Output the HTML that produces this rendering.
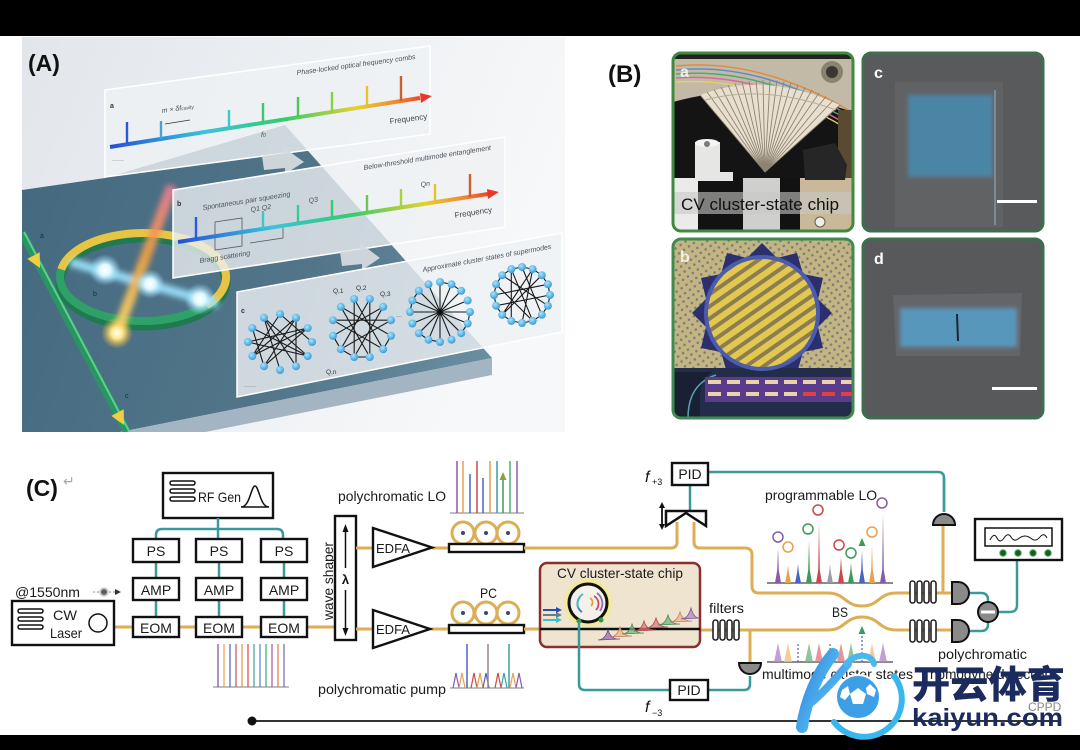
<!DOCTYPE html>
<html><head><meta charset="utf-8"><title>CV cluster-state chip figure</title>
<style>
html,body{margin:0;padding:0;background:#000;width:1080px;height:750px;overflow:hidden}
svg{display:block}
text{font-family:"Liberation Sans","Noto Sans CJK SC",sans-serif}
.bx{fill:#fff;stroke:#111;stroke-width:2.4}
.lb{font-size:14px;fill:#1a1a1a}
.tl{fill:none;stroke:#3a9a9a;stroke-width:2.5}
.fb{fill:none;stroke:#dcae55;stroke-width:3}
.ed{fill:none;stroke:#1a1a1a;stroke-width:1.1}
.nd{fill:url(#nodeG)}
.ct{font-size:7px;fill:#4a4f55;font-style:italic}
</style></head><body>
<svg xmlns="http://www.w3.org/2000/svg" width="1080" height="750" viewBox="0 0 1080 750">
<defs>
<linearGradient id="bgA" x1="0" y1="0" x2="1" y2="0.3">
<stop offset="0" stop-color="#e2e6eb"/><stop offset="0.55" stop-color="#edf0f3"/><stop offset="1" stop-color="#f7f8f9"/>
</linearGradient>
<linearGradient id="slabG" x1="22" y1="190" x2="492" y2="360" gradientUnits="userSpaceOnUse">
<stop offset="0" stop-color="#456a80"/><stop offset="0.6" stop-color="#527589"/><stop offset="1" stop-color="#6b8fa2"/>
</linearGradient>
<linearGradient id="cgA" x1="110" y1="147" x2="427" y2="97" gradientUnits="userSpaceOnUse">
<stop offset="0" stop-color="#2550d8"/><stop offset="0.3" stop-color="#38c4dc"/><stop offset="0.55" stop-color="#34cc6c"/><stop offset="0.78" stop-color="#e6d030"/><stop offset="0.9" stop-color="#f08a30"/><stop offset="1" stop-color="#e8382a"/>
</linearGradient>
<linearGradient id="cgB" x1="178" y1="242" x2="495" y2="193" gradientUnits="userSpaceOnUse">
<stop offset="0" stop-color="#2550d8"/><stop offset="0.3" stop-color="#38c4dc"/><stop offset="0.55" stop-color="#34cc6c"/><stop offset="0.78" stop-color="#e6d030"/><stop offset="0.9" stop-color="#f08a30"/><stop offset="1" stop-color="#e8382a"/>
</linearGradient>
<linearGradient id="beamO" x1="172" y1="186" x2="116" y2="336" gradientUnits="userSpaceOnUse">
<stop offset="0" stop-color="#f07a9a"/><stop offset="0.45" stop-color="#f4a040"/><stop offset="1" stop-color="#ffe070"/>
</linearGradient>
<linearGradient id="logoG" x1="0" y1="0" x2="1" y2="1">
<stop offset="0" stop-color="#2f7fe0"/><stop offset="1" stop-color="#62d2f6"/>
</linearGradient>
<radialGradient id="gw"><stop offset="0" stop-color="#ffffff"/><stop offset="0.35" stop-color="#dff8ff"/><stop offset="1" stop-color="#7fd8ff" stop-opacity="0"/></radialGradient>
<radialGradient id="gy"><stop offset="0" stop-color="#ffffff"/><stop offset="0.35" stop-color="#ffe88a"/><stop offset="1" stop-color="#ffb030" stop-opacity="0"/></radialGradient>
<radialGradient id="nodeG" cx="0.4" cy="0.35" r="0.7"><stop offset="0" stop-color="#a8e4fb"/><stop offset="1" stop-color="#2f95d6"/></radialGradient>
<radialGradient id="ringGlow"><stop offset="0.6" stop-color="#f6f04a"/><stop offset="1" stop-color="#f6f04a" stop-opacity="0"/></radialGradient>
<filter id="b1" filterUnits="userSpaceOnUse" x="0" y="0" width="1080" height="750"><feGaussianBlur stdDeviation="1"/></filter>
<filter id="b2" filterUnits="userSpaceOnUse" x="0" y="0" width="1080" height="750"><feGaussianBlur stdDeviation="2"/></filter>
<filter id="b3" filterUnits="userSpaceOnUse" x="0" y="0" width="1080" height="750"><feGaussianBlur stdDeviation="3"/></filter>
<clipPath id="cpA"><rect x="22" y="37" width="543" height="395"/></clipPath>
<clipPath id="cpa"><rect x="673" y="53" width="180" height="178" rx="8"/></clipPath>
<clipPath id="cpb"><rect x="673" y="239" width="180" height="179" rx="8"/></clipPath>
<pattern id="dots" width="6" height="6" patternUnits="userSpaceOnUse" patternTransform="rotate(-35)">
<rect width="6" height="6" fill="#c3b583"/><circle cx="3" cy="3" r="1.3" fill="#7d7b76"/></pattern>
<pattern id="stripe" width="10" height="10" patternUnits="userSpaceOnUse" patternTransform="rotate(-35)">
<rect width="10" height="6" fill="#e2c84e"/><rect y="6" width="10" height="4" fill="#8c7c52"/></pattern>
</defs>

<!-- frame -->
<rect width="1080" height="750" fill="#000"/>
<rect x="0" y="36" width="1080" height="699" fill="#fff"/>

<!-- ================= PANEL A ================= -->
<g clip-path="url(#cpA)">
<rect x="22" y="37" width="543" height="395" fill="url(#bgA)"/>
<polygon points="22,190 105,178 285,125 492,358 120,432 22,432" fill="url(#slabG)"/>
<polygon points="492,358 492,375 135,446 120,432" fill="#a3b5c2"/>
<!-- straight waveguide -->
<line x1="22" y1="233" x2="127" y2="432" stroke="#2b9463" stroke-width="8"/>
<line x1="24" y1="232" x2="129" y2="431" stroke="#5ccf8c" stroke-width="2"/>
<polygon points="40,268 39.7,252.3 27.3,258.9" fill="#f0d040"/>
<polygon points="124,425 123.7,409.3 111.3,415.9" fill="#f0d040"/>
<!-- ring -->
<ellipse cx="143" cy="282" rx="83" ry="44" fill="none" stroke="#1f7a50" stroke-width="9"/>
<ellipse cx="143" cy="277" rx="83" ry="44" fill="none" stroke="#2fa067" stroke-width="8"/>
<path d="M61.3,269.4 A83,44 0 1 1 206.6,305.3" fill="none" stroke="#e8c444" stroke-width="8"/>
<!-- beams -->
<g filter="url(#b3)">
<line x1="70" y1="262" x2="218" y2="304" stroke="#9fe6ff" stroke-width="9" opacity="0.9"/>
<line x1="172" y1="186" x2="116" y2="336" stroke="url(#beamO)" stroke-width="11" opacity="0.9"/>
</g>
<circle cx="105" cy="270" r="16" fill="url(#gw)"/>
<circle cx="150" cy="284" r="15" fill="url(#gw)"/>
<circle cx="200" cy="299" r="16" fill="url(#gw)"/>
<circle cx="117" cy="333" r="16" fill="url(#gy)"/>
<text x="40" y="238" font-size="7" fill="#1d2a35">a</text>
<text x="93" y="296" font-size="7" fill="#1d2a35">b</text>
<text x="125" y="398" font-size="7" fill="#1d2a35">c</text>

<!-- card a -->
<polygon points="105,90 430,46 430,134 105,177" fill="#eef1f4" fill-opacity="0.8" stroke="#fff" stroke-width="1.5"/>
<line x1="110" y1="147" x2="420" y2="98" stroke="url(#cgA)" stroke-width="4"/>
<polygon points="420,93 432,96 421,103" fill="#e8382a"/>
<g stroke-width="2.4">
<line x1="127" y1="144" x2="127" y2="122" stroke="#2a5ad8"/>
<line x1="161" y1="139" x2="161" y2="121" stroke="#4aa0d8"/>
<line x1="229" y1="128" x2="229" y2="110" stroke="#3ac8c8"/>
<line x1="263" y1="123" x2="263" y2="103" stroke="#3ac870"/>
<line x1="298" y1="117" x2="298" y2="97" stroke="#4ac850"/>
<line x1="332" y1="112" x2="332" y2="92" stroke="#8ad040"/>
<line x1="367" y1="106" x2="367" y2="86" stroke="#e8c030"/>
<line x1="401" y1="101" x2="401" y2="76" stroke="#c86030"/>
</g>
<text x="110" y="108" font-size="7" font-weight="bold" fill="#333">a</text>
<text class="ct" transform="translate(162,113) rotate(-8)">m × δf<tspan font-size="5">cavity</tspan></text>
<line x1="165" y1="124" x2="190" y2="120" stroke="#333" stroke-width="0.8"/>
<text class="ct" x="261" y="137">f<tspan font-size="5">0</tspan></text>
<text class="ct" transform="translate(297,75) rotate(-7.7)">Phase-locked optical frequency combs</text>
<text transform="translate(390,124) rotate(-7.7)" font-size="8" fill="#444">Frequency</text>
<text x="112" y="162" font-size="6" fill="#555">······</text>
<polygon points="262,156 283,153 283,147 304,162 285,174 285,168 264,170" fill="#d5dade" opacity="0.95"/>

<!-- card b -->
<polygon points="173,190 505,137 505,227 173,278" fill="#eef1f4" fill-opacity="0.78" stroke="#fff" stroke-width="1.5"/>
<path d="M215,222 L242,218 L242,246 L215,250 Z M250,243 L283,238 L283,228" fill="none" stroke="#555" stroke-width="0.8"/>
<line x1="178" y1="242" x2="488" y2="194" stroke="url(#cgB)" stroke-width="4"/>
<polygon points="487,189 499,192 488,199" fill="#e8382a"/>
<g stroke-width="2.4">
<line x1="196" y1="239" x2="196" y2="217" stroke="#2a5ad8"/>
<line x1="263" y1="229" x2="263" y2="211" stroke="#3ac8c8"/>
<line x1="298" y1="223" x2="298" y2="205" stroke="#3ac898"/>
<line x1="332" y1="218" x2="332" y2="200" stroke="#3ac870"/>
<line x1="367" y1="213" x2="367" y2="195" stroke="#6ac850"/>
<line x1="401" y1="207" x2="401" y2="189" stroke="#a8d040"/>
<line x1="435" y1="202" x2="435" y2="184" stroke="#e8c030"/>
<line x1="470" y1="197" x2="470" y2="174" stroke="#c86030"/>
</g>
<text x="177" y="206" font-size="7" font-weight="bold" fill="#333">b</text>
<text class="ct" transform="translate(203,210) rotate(-9)">Spontaneous pair squeezing</text>
<text class="ct" transform="translate(251,212) rotate(-9)" font-size="8">Q1 Q2</text>
<text class="ct" transform="translate(309,203) rotate(-9)" font-size="8">Q3</text>
<text class="ct" transform="translate(421,187) rotate(-9)" font-size="8">Qn</text>
<text class="ct" transform="translate(364,170) rotate(-9)">Below-threshold multimode entanglement</text>
<text transform="translate(455,218) rotate(-9)" font-size="8" fill="#444">Frequency</text>
<text class="ct" transform="translate(200,263) rotate(-9)">Bragg scattering</text>
<polygon points="340,252 360,249 360,243 380,258 362,270 362,264 342,266" fill="#d5dade" opacity="0.95"/>

<!-- card c -->
<polygon points="237,292 562,233 562,332 237,397" fill="#eef1f4" fill-opacity="0.8" stroke="#fff" stroke-width="1.5"/>
<text x="241" y="313" font-size="7" font-weight="bold" fill="#333">c</text>
<text class="ct" transform="translate(423,272) rotate(-10.3)">Approximate cluster states of supermodes</text>
<text x="244" y="388" font-size="6" fill="#555">······</text>
<text x="527" y="322" font-size="6" fill="#555">······</text>
<!-- graph 1 -->
<path class="ed" d="M307.7,356L252.3,328M296,366.2L264,317.8M296,366.2L296,317.8M264,366.2L296,317.8M264,366.2L307.7,328M252.3,356L307.7,328M252.3,356L280,314M248,342L307.7,356M264,317.8L280,370M296,317.8L252.3,356M307.7,328L248,342M264,317.8L307.7,356M252.3,328L264,366.2M280,314L312,342"/>
<g class="nd">
<circle cx="312" cy="342" r="4"/><circle cx="307.7" cy="356" r="4"/><circle cx="296" cy="366.2" r="4"/><circle cx="280" cy="370" r="4"/><circle cx="264" cy="366.2" r="4"/><circle cx="252.3" cy="356" r="4"/><circle cx="248" cy="342" r="4"/><circle cx="252.3" cy="328" r="4"/><circle cx="264" cy="317.8" r="4"/><circle cx="280" cy="314" r="4"/><circle cx="296" cy="317.8" r="4"/><circle cx="307.7" cy="328" r="4"/>
</g>
<!-- graph 2 -->
<path class="ed" d="M391,335.8L340.8,306.8M383.2,349.2L354.2,299M369.8,357L369.8,299M354.2,357L383.2,306.8M340.8,349.2L391,320.2M333,335.8L383.2,306.8M333,320.2L383.2,349.2M340.8,306.8L369.8,357M354.2,299L354.2,357M369.8,299L340.8,349.2M391,320.2L333,320.2M369.8,357L354.2,357L340.8,349.2L333,335.8M391,335.8L383.2,349.2"/>
<g class="nd">
<circle cx="391" cy="335.8" r="4"/><circle cx="383.2" cy="349.2" r="4"/><circle cx="369.8" cy="357" r="4"/><circle cx="354.2" cy="357" r="4"/><circle cx="340.8" cy="349.2" r="4"/><circle cx="333" cy="335.8" r="4"/><circle cx="333" cy="320.2" r="4"/><circle cx="340.8" cy="306.8" r="4"/><circle cx="354.2" cy="299" r="4"/><circle cx="369.8" cy="299" r="4"/><circle cx="383.2" cy="306.8" r="4"/><circle cx="391" cy="320.2" r="4"/>
</g>
<text x="333" y="293" font-size="6.5" fill="#333">Q,1</text>
<text x="356" y="290" font-size="6.5" fill="#333">Q,2</text>
<text x="380" y="296" font-size="6.5" fill="#333">Q,3</text>
<text x="326" y="374" font-size="6.5" fill="#333">Q,n</text>
<text x="396" y="318" font-size="6" fill="#333">···</text>
<!-- graph 3 -->
<path class="ed" d="M440,312L470,312M440,312L467.7,323.5M440,312L461.2,333.2M440,312L451.5,339.7M440,312L440,342M440,312L428.5,339.7M440,312L418.8,333.2M440,312L412.3,323.5M440,312L410,312M440,312L412.3,300.5M440,312L418.8,290.8M440,312L428.5,284.3M440,312L440,282M440,312L451.5,284.3M440,312L461.2,290.8M440,312L467.7,300.5M470,312L467.7,323.5L461.2,333.2M440,342L428.5,339.7L418.8,333.2M410,312L412.3,300.5L418.8,290.8M440,282L451.5,284.3L461.2,290.8"/>
<circle cx="440" cy="312" r="2.5" fill="#111"/>
<g class="nd">
<circle cx="470" cy="312" r="4"/><circle cx="467.7" cy="323.5" r="4"/><circle cx="461.2" cy="333.2" r="4"/><circle cx="451.5" cy="339.7" r="4"/><circle cx="440" cy="342" r="4"/><circle cx="428.5" cy="339.7" r="4"/><circle cx="418.8" cy="333.2" r="4"/><circle cx="412.3" cy="323.5" r="4"/><circle cx="410" cy="312" r="4"/><circle cx="412.3" cy="300.5" r="4"/><circle cx="418.8" cy="290.8" r="4"/><circle cx="428.5" cy="284.3" r="4"/><circle cx="440" cy="282" r="4"/><circle cx="451.5" cy="284.3" r="4"/><circle cx="461.2" cy="290.8" r="4"/><circle cx="467.7" cy="300.5" r="4"/>
</g>
<!-- graph 4 -->
<path class="ed" d="M550,295L547.9,305.7L541.8,314.8L532.7,320.9L522,323L511.3,320.9L502.2,314.8L496.1,305.7L494,295L496.1,284.3L502.2,275.2L511.3,269.1L522,267L532.7,269.1L541.8,275.2L547.9,284.3Z M550,295L496.1,305.7M547.9,305.7L502.2,275.2M541.8,314.8L522,267M532.7,320.9L496.1,284.3M522,323L532.7,269.1M511.3,320.9L511.3,269.1M502.2,314.8L541.8,275.2M494,295L547.9,284.3M511.3,269.1L532.7,320.9M532.7,269.1L502.2,314.8"/>
<g class="nd">
<circle cx="550" cy="295" r="4"/><circle cx="547.9" cy="305.7" r="4"/><circle cx="541.8" cy="314.8" r="4"/><circle cx="532.7" cy="320.9" r="4"/><circle cx="522" cy="323" r="4"/><circle cx="511.3" cy="320.9" r="4"/><circle cx="502.2" cy="314.8" r="4"/><circle cx="496.1" cy="305.7" r="4"/><circle cx="494" cy="295" r="4"/><circle cx="496.1" cy="284.3" r="4"/><circle cx="502.2" cy="275.2" r="4"/><circle cx="511.3" cy="269.1" r="4"/><circle cx="522" cy="267" r="4"/><circle cx="532.7" cy="269.1" r="4"/><circle cx="541.8" cy="275.2" r="4"/><circle cx="547.9" cy="284.3" r="4"/>
</g>
</g>
<text x="28" y="71" font-size="23" font-weight="bold" fill="#111">(A)</text>

<!-- ================= PANEL B ================= -->
<text x="608" y="82" font-size="24" font-weight="bold" fill="#111">(B)</text>

<!-- a: photo -->
<g clip-path="url(#cpa)">
<rect x="673" y="53" width="180" height="178" fill="#141414"/>
<path d="M673,58 H853 V112 Q805,96 765,92 Q715,90 673,102 Z" fill="#c2b9a6"/>
<rect x="673" y="53" width="180" height="6" fill="#222"/>
<g fill="none" stroke-width="1.4">
<path d="M676,66 Q760,58 852,112" stroke="#e08a40"/>
<path d="M676,70 Q760,62 850,116" stroke="#5a8ad0"/>
<path d="M676,74 Q760,67 848,120" stroke="#4aa870"/>
<path d="M676,78 Q760,72 846,124" stroke="#d86a9a"/>
<path d="M676,82 Q760,77 844,127" stroke="#e8d060"/>
</g>
<circle cx="832" cy="72" r="11" fill="#8a8270"/><circle cx="832" cy="72" r="6" fill="#3a3530"/>
<rect x="838" y="110" width="15" height="70" fill="#5a4a32"/>
<path d="M765,172 L700,95 Q765,70 840,105 Z" fill="#e8dfcf"/>
<g stroke="#8c8372" stroke-width="0.9">
<line x1="765" y1="172" x2="700" y2="95"/><line x1="765" y1="172" x2="707" y2="92"/><line x1="765" y1="172" x2="714" y2="89.5"/><line x1="765" y1="172" x2="721" y2="87"/><line x1="765" y1="172" x2="728" y2="85"/><line x1="765" y1="172" x2="735" y2="83.5"/><line x1="765" y1="172" x2="742" y2="82"/><line x1="765" y1="172" x2="749" y2="81"/><line x1="765" y1="172" x2="756" y2="80.3"/><line x1="765" y1="172" x2="763" y2="80"/><line x1="765" y1="172" x2="770" y2="80"/><line x1="765" y1="172" x2="777" y2="80.5"/><line x1="765" y1="172" x2="784" y2="81.5"/><line x1="765" y1="172" x2="791" y2="83"/><line x1="765" y1="172" x2="798" y2="85"/><line x1="765" y1="172" x2="805" y2="87.5"/><line x1="765" y1="172" x2="812" y2="90"/><line x1="765" y1="172" x2="819" y2="93"/><line x1="765" y1="172" x2="826" y2="96.5"/><line x1="765" y1="172" x2="833" y2="100.5"/><line x1="765" y1="172" x2="840" y2="105"/>
</g>
<path d="M705,100 Q765,84 836,110" fill="none" stroke="#b8ad98" stroke-width="1"/>
<rect x="673" y="178" width="180" height="53" fill="#cfcfcd"/>
<rect x="673" y="178" width="25" height="53" fill="#ebebea"/>
<rect x="698" y="178" width="45" height="53" fill="#121212"/>
<rect x="780" y="178" width="20" height="53" fill="#121212"/>
<rect x="800" y="178" width="53" height="53" fill="#c9b99a"/>
<circle cx="820" cy="222" r="5" fill="#eee" stroke="#6a5a40"/>
<path d="M695,142 h25 v30 h13 v9 h-38 z" fill="#e6e6e4"/>
<ellipse cx="707" cy="143" rx="12" ry="4" fill="#f4f4f2"/><circle cx="707" cy="144" r="3" fill="#7a7a78"/>
<path d="M803,150 L835,143 L847,165 L845,180 L805,180 Z" fill="#262626"/>
<rect x="673" y="192" width="180" height="22" fill="#c8c8c6" fill-opacity="0.6"/>
<text x="681" y="210" font-size="17" fill="#111" textLength="158" lengthAdjust="spacingAndGlyphs">CV cluster-state chip</text>
<text x="680" y="77" font-size="16" font-weight="bold" fill="#fff" fill-opacity="0.8">a</text>
</g>
<rect x="673" y="53" width="180" height="178" rx="8" fill="none" stroke="#3f8a3f" stroke-width="3"/>

<!-- b: micrograph -->
<g clip-path="url(#cpb)">
<rect x="673" y="239" width="180" height="179" fill="url(#dots)"/>
<polygon points="832,313 818,327 823,348 803,352 797,373 777,368 762,383 747,368 727,373 721,352 701,348 706,327 692,313 706,299 701,278 721,274 727,253 747,258 762,243 777,258 797,253 803,274 823,278 818,299" fill="#2b2f6e"/>
<rect x="673" y="368" width="180" height="50" fill="#232c48"/>
<circle cx="762" cy="313" r="55" fill="url(#stripe)"/>
<circle cx="762" cy="313" r="56" fill="none" stroke="#4b5cae" stroke-width="4"/>
<path d="M673,372 H712 Q700,380 700,395 V418 H673 Z" fill="#1a2034"/>
<path d="M688,418 Q688,384 716,375" fill="none" stroke="#5aa0b0" stroke-width="1.5"/>
<rect x="705" y="377" width="148" height="25" fill="#5b3c8c"/>
<g fill="#e8d4a8">
<rect x="708" y="380" width="13" height="4"/><rect x="727" y="380" width="13" height="4"/><rect x="746" y="380" width="13" height="4"/><rect x="765" y="380" width="13" height="4"/><rect x="784" y="380" width="13" height="4"/><rect x="803" y="380" width="13" height="4"/><rect x="822" y="380" width="13" height="4"/><rect x="841" y="380" width="13" height="4"/>
<rect x="708" y="392" width="13" height="4"/><rect x="727" y="392" width="13" height="4"/><rect x="746" y="392" width="13" height="4"/><rect x="765" y="392" width="13" height="4"/><rect x="784" y="392" width="13" height="4"/>
</g>
<g fill="#e04040"><rect x="803" y="392" width="13" height="4"/><rect x="822" y="392" width="13" height="4"/><rect x="841" y="392" width="13" height="4"/></g>
<text x="680" y="262" font-size="16" font-weight="bold" fill="#fff" fill-opacity="0.8">b</text>
</g>
<rect x="673" y="239" width="180" height="179" rx="8" fill="none" stroke="#3f8a4f" stroke-width="3"/>

<!-- c -->
<rect x="863" y="53" width="180" height="178" rx="8" fill="#595a5c" stroke="#3d6e4e" stroke-width="3"/>
<rect x="895" y="82" width="108" height="145" fill="#616264"/>
<rect x="908" y="95" width="85" height="82" fill="#4c85a6" filter="url(#b2)"/>
<line x1="995" y1="90" x2="995" y2="225" stroke="#7d8a95" stroke-width="2"/>
<rect x="997" y="200" width="40" height="3" fill="#fff"/>
<text x="874" y="78" font-size="16" font-weight="bold" fill="#fff">c</text>
<!-- d -->
<rect x="863" y="239" width="180" height="179" rx="8" fill="#58595b" stroke="#3d6e4e" stroke-width="3"/>
<polygon points="893,295 1022,293 1020,356 896,356" fill="#646568"/>
<rect x="900" y="308" width="117" height="39" fill="#5897bc" filter="url(#b2)"/>
<line x1="957" y1="314" x2="958" y2="341" stroke="#1e2430" stroke-width="2"/>
<rect x="992" y="387" width="45" height="3" fill="#fff"/>
<text x="874" y="264" font-size="16" font-weight="bold" fill="#fff">d</text>

<!-- ================= PANEL C ================= -->
<text x="26" y="496" font-size="23" font-weight="bold" fill="#111">(C)</text>
<text x="63" y="486" font-size="14" fill="#aaa">↵</text>

<!-- RF Gen -->
<rect class="bx" x="163" y="473" width="110" height="45"/>
<g fill="none" stroke="#111" stroke-width="1.5">
<rect x="170" y="481" width="25" height="4" rx="2"/><rect x="170" y="489" width="25" height="4" rx="2"/><rect x="170" y="497" width="25" height="4" rx="2"/>
<path d="M241,507 C250,507 251,486 255,486 C259,486 260,507 269,507 M241,507 H269"/>
</g>
<text class="lb" x="198" y="502" textLength="43" lengthAdjust="spacingAndGlyphs">RF Gen</text>

<!-- teal RF bus -->
<path class="tl" d="M218,518 V539 M156,539 V535 Q156,529 162,529 H277 Q283,529 283,535 V539"/>
<path class="tl" d="M156,562 V578 M156,600 V617 M219,562 V578 M219,600 V617 M284,562 V578 M284,600 V617"/>

<!-- fibers left -->
<path class="fb" d="M114,627 H133 M179,627 H196 M242,627 H261 M307,627 H335"/>

<!-- PS / AMP / EOM -->
<rect class="bx" x="133" y="539" width="46" height="23"/><rect class="bx" x="196" y="539" width="46" height="23"/><rect class="bx" x="261" y="539" width="46" height="23"/>
<rect class="bx" x="133" y="578" width="46" height="22"/><rect class="bx" x="196" y="578" width="46" height="22"/><rect class="bx" x="261" y="578" width="46" height="22"/>
<rect class="bx" x="133" y="617" width="46" height="20"/><rect class="bx" x="196" y="617" width="46" height="20"/><rect class="bx" x="261" y="617" width="46" height="20"/>
<g class="lb" text-anchor="middle">
<text x="156" y="556">PS</text><text x="219" y="556">PS</text><text x="284" y="556">PS</text>
<text x="156" y="595">AMP</text><text x="219" y="595">AMP</text><text x="284" y="595">AMP</text>
<text x="156" y="633">EOM</text><text x="219" y="633">EOM</text><text x="284" y="633">EOM</text>
</g>

<!-- CW laser -->
<rect class="bx" x="12" y="601" width="102" height="44"/>
<g fill="none" stroke="#111" stroke-width="1.5">
<rect x="18" y="609" width="25" height="4" rx="2"/><rect x="18" y="617" width="25" height="4" rx="2"/><rect x="18" y="625" width="25" height="4" rx="2"/>
<circle cx="98" cy="623" r="9"/>
</g>
<text class="lb" x="53" y="620" textLength="24" lengthAdjust="spacingAndGlyphs">CW</text>
<text class="lb" x="50" y="638" textLength="32" lengthAdjust="spacingAndGlyphs">Laser</text>
<text class="lb" x="15" y="597" textLength="65" lengthAdjust="spacingAndGlyphs">@1550nm</text>
<line x1="93" y1="592" x2="116" y2="592" stroke="#888" stroke-width="1" stroke-dasharray="2,2"/>
<circle cx="104" cy="592" r="3.5" fill="#555" filter="url(#b1)"/>
<polygon points="115,589 121,592 115,595" fill="#333"/>

<!-- EOM comb -->
<line x1="213" y1="687" x2="289" y2="687" stroke="#999" stroke-width="1.2"/>
<g stroke-width="1.2">
<path d="M218,644V687" stroke="#7a4a9a"/><path d="M224,644V687" stroke="#e8a050"/><path d="M230,644V687" stroke="#4a60c0"/><path d="M236,644V687" stroke="#c85050"/><path d="M242,644V687" stroke="#e89040"/><path d="M248,644V687" stroke="#d04a4a"/><path d="M254,644V687" stroke="#40a0a0"/><path d="M260,644V687" stroke="#5080d0"/><path d="M266,644V687" stroke="#40a870"/><path d="M272,644V687" stroke="#9a5aa8"/><path d="M278,644V687" stroke="#e07a50"/><path d="M284,644V687" stroke="#6a6ab0"/>
</g>

<!-- wave shaper -->
<rect class="bx" x="335" y="516" width="21" height="124"/>
<path d="M345.5,530 V568 M345.5,590 V630" stroke="#111" stroke-width="1.5"/>
<polygon points="342.5,532 345.5,524 348.5,532" fill="#111"/><polygon points="342.5,628 345.5,636 348.5,628" fill="#111"/>
<text x="345.5" y="584" font-size="13" font-weight="bold" text-anchor="middle" fill="#111">λ</text>
<text class="lb" transform="translate(333,620) rotate(-90)" textLength="78" lengthAdjust="spacingAndGlyphs">wave shaper</text>

<!-- EDFAs -->
<path class="fb" d="M356,548 H373 M356,629 H373 M432,548 H449 M430,629 H449"/>
<polygon class="bx" points="373,528 432,547.5 373,567"/>
<polygon class="bx" points="373,610 430,629 373,648"/>
<text x="376" y="553" font-size="13" fill="#1a1a1a" textLength="34" lengthAdjust="spacingAndGlyphs">EDFA</text>
<text x="376" y="634" font-size="13" fill="#1a1a1a" textLength="34" lengthAdjust="spacingAndGlyphs">EDFA</text>

<!-- PCs -->
<g fill="none" stroke="#dcae55" stroke-width="3">
<circle cx="463" cy="533" r="11"/><circle cx="486" cy="533" r="11"/><circle cx="508" cy="533" r="11"/>
<circle cx="463" cy="613" r="11"/><circle cx="486" cy="613" r="11"/><circle cx="508" cy="613" r="11"/>
</g>
<g fill="#3a4a6a"><circle cx="463" cy="533" r="2"/><circle cx="486" cy="533" r="2"/><circle cx="508" cy="533" r="2"/><circle cx="463" cy="613" r="2"/><circle cx="486" cy="613" r="2"/><circle cx="508" cy="613" r="2"/></g>
<rect class="bx" x="449" y="544" width="75" height="8"/>
<rect class="bx" x="449" y="625" width="75" height="8"/>
<text class="lb" x="480" y="598" textLength="17" lengthAdjust="spacingAndGlyphs">PC</text>
<text class="lb" x="338" y="501" textLength="108" lengthAdjust="spacingAndGlyphs">polychromatic LO</text>
<text class="lb" x="318" y="694" textLength="128" lengthAdjust="spacingAndGlyphs">polychromatic pump</text>

<!-- LO comb -->
<line x1="450" y1="513" x2="524" y2="513" stroke="#999" stroke-width="1.2"/>
<g stroke-width="1.5">
<path d="M457,461V513" stroke="#8a5aa8"/><path d="M463,461V513" stroke="#e8a050"/><path d="M470,474V513" stroke="#4a62c4"/><path d="M477,461V513" stroke="#c84a4a"/><path d="M483,478V513" stroke="#4a62c4"/><path d="M490,461V513" stroke="#e89a40"/><path d="M497,461V513" stroke="#3aa0a0"/><path d="M503,478V513" stroke="#3a9a5a"/><path d="M510,461V513" stroke="#4ab070"/><path d="M517,461V513" stroke="#9a5aa8"/>
</g>
<polygon points="499.5,480 503,472 506.5,480" fill="#8aa040"/>
<!-- pump comb -->
<line x1="450" y1="688" x2="524" y2="688" stroke="#999" stroke-width="1.2"/>
<g fill="none" stroke-width="1.2">
<path d="M453,688L456,673L459,688" stroke="#8a5aa8"/><path d="M459,688L462,673L465,688" stroke="#e8a050"/><path d="M471,688L474,673L477,688" stroke="#c84a4a"/><path d="M477,688L480,673L483,688" stroke="#e89a40"/><path d="M483,688L486,673L489,688" stroke="#4a62c4"/><path d="M495,688L498,673L501,688" stroke="#c84a4a"/><path d="M501,688L504,673L507,688" stroke="#3aa0a0"/><path d="M510,688L513,673L516,688" stroke="#e8a050"/><path d="M516,688L519,673L522,688" stroke="#8a5aa8"/>
</g>
<g stroke-width="1.5"><path d="M467,644V688" stroke="#4a62c4"/><path d="M488,644V688" stroke="#9a8090"/><path d="M509,644V688" stroke="#3aa0a0"/></g>

<!-- upper fiber route -->
<path class="fb" d="M524,548 H671 Q677,548 677,542 V522 M694,522 V542 Q694,548 700,548 H745 Q752,548 752,555 V586 Q752,593 759,593 H828 C845,593 845,606 862,606 C879,606 879,593 896,593 H952 M943,593 V525"/>
<!-- lower fiber route -->
<path class="fb" d="M524,629 H540 M700,630 H828 C845,630 845,617 862,617 C879,617 879,630 896,630 H952 M750,630 V663"/>

<!-- PID upper + prism -->
<path class="tl" d="M690,485 V511 M708,472 H938 Q944,472 944,478 V512"/>
<rect class="bx" x="672" y="463" width="36" height="22"/>
<text class="lb" x="690" y="479" text-anchor="middle">PID</text>
<polygon points="666,511 706,511 706,526 686,513 666,526" fill="#fff" stroke="#111" stroke-width="2.5"/>
<path d="M662,506 V526" stroke="#111" stroke-width="1.8"/>
<polygon points="659,508 662,502 665,508" fill="#111"/><polygon points="659,524 662,530 665,524" fill="#111"/>
<text x="645" y="482" font-family="Liberation Serif,serif" font-style="italic" font-size="16" fill="#111">f</text>
<text x="652" y="485" font-size="9" fill="#111">+3</text>

<!-- CV chip -->
<rect x="540" y="563" width="160" height="84" rx="7" fill="#efe4cf" stroke="#8a2e2e" stroke-width="2.5"/>
<text class="lb" x="557" y="578" textLength="126" lengthAdjust="spacingAndGlyphs">CV cluster-state chip</text>
<circle cx="588" cy="603" r="26" fill="url(#ringGlow)"/>
<circle cx="588" cy="603" r="19" fill="#f3f1ea" stroke="#111" stroke-width="3"/>
<g fill="none" stroke-width="1.8">
<path d="M580,597 A10,10 0 0 0 582,612" stroke="#3a7ad0"/>
<path d="M583,594 A12,12 0 0 0 578,608" stroke="#40b8c0"/>
<path d="M594,596 A9,9 0 0 1 596,610" stroke="#c84a6a"/>
<path d="M597,593 A13,13 0 0 1 600,611" stroke="#9a6ab0"/>
<path d="M590,598 A5,5 0 0 1 591,606" stroke="#e89a40"/>
</g>
<line x1="540" y1="629" x2="700" y2="629" stroke="#111" stroke-width="2.5"/>
<circle cx="579" cy="621" r="2.5" fill="#2a9a4a"/><circle cx="601" cy="620" r="2.5" fill="#2a9a4a"/>
<g stroke-width="2"><line x1="543" y1="610" x2="557" y2="610" stroke="#2a4ab8"/><line x1="543" y1="615" x2="557" y2="615" stroke="#6a7a8a"/><line x1="543" y1="620" x2="557" y2="620" stroke="#3ac0c8"/></g>
<polygon points="556,607 562,610 556,613" fill="#2a4ab8"/><polygon points="556,612 562,615 556,618" fill="#6a7a8a"/><polygon points="556,617 562,620 556,623" fill="#3ac0c8"/>
<g fill-opacity="0.75" stroke-width="0.8">
<path d="M598,640 Q605,640 608,630 Q611,640 620,639 Z" fill="#9a6ab8" stroke="#6a4a88"/>
<path d="M610,637 Q617,637 620,627 Q623,637 632,636 Z" fill="#f0b890" stroke="#c08060"/>
<path d="M622,634 Q629,634 632,624 Q635,634 644,633 Z" fill="#70b880" stroke="#4a8a5a"/>
<path d="M634,631 Q641,631 644,621 Q647,631 656,630 Z" fill="#e07a80" stroke="#b04a50"/>
<path d="M646,628 Q653,628 656,618 Q659,628 668,627 Z" fill="#e07a80" stroke="#b04a50"/>
<path d="M658,625 Q665,625 668,615 Q671,625 680,624 Z" fill="#70b880" stroke="#4a8a5a"/>
<path d="M670,622 Q677,622 680,612 Q683,622 692,621 Z" fill="#f0b890" stroke="#c08060"/>
<path d="M681,619 Q688,619 691,608 Q694,619 700,618 Z" fill="#b08ac8" stroke="#7a5a98"/>
</g>
<!-- lower PID -->
<path class="tl" d="M670,690 H585 Q579,690 579,684 V622 M750,676 V684 Q750,690 744,690 H708"/>
<rect class="bx" x="670" y="680" width="38" height="20"/>
<text class="lb" x="689" y="695" text-anchor="middle">PID</text>
<text x="645" y="712" font-family="Liberation Serif,serif" font-style="italic" font-size="16" fill="#111">f</text>
<text x="652" y="716" font-size="9" fill="#111">−3</text>
<path d="M739,663 H761 A11,11 0 0 1 739,663 Z" fill="#8a8a8a" stroke="#111" stroke-width="2"/>

<!-- filters -->
<g fill="#fff" stroke="#222" stroke-width="1.6">
<rect x="713" y="620" width="5" height="20" rx="2.5"/><rect x="720" y="620" width="5" height="20" rx="2.5"/><rect x="727" y="620" width="5" height="20" rx="2.5"/><rect x="734" y="620" width="5" height="20" rx="2.5"/>
<rect x="910" y="581" width="5" height="22" rx="2.5"/><rect x="917" y="581" width="5" height="22" rx="2.5"/><rect x="924" y="581" width="5" height="22" rx="2.5"/><rect x="931" y="581" width="5" height="22" rx="2.5"/>
<rect x="910" y="620" width="5" height="22" rx="2.5"/><rect x="917" y="620" width="5" height="22" rx="2.5"/><rect x="924" y="620" width="5" height="22" rx="2.5"/><rect x="931" y="620" width="5" height="22" rx="2.5"/>
</g>
<text class="lb" x="709" y="613" textLength="35" lengthAdjust="spacingAndGlyphs">filters</text>
<text class="lb" x="832" y="617" textLength="16" lengthAdjust="spacingAndGlyphs">BS</text>

<!-- detectors -->
<path class="tl" d="M944,512 V478 M968,593 H981 Q988,593 988,600 V602 M968,631 H981 Q988,631 988,624 V622 M998,612 H1010 Q1017,612 1017,605 V560"/>
<path d="M933,525 A11,11 0 0 1 955,525 Z" fill="#8a8a8a" stroke="#111" stroke-width="2"/>
<path d="M952,582 H958 A11,11 0 0 1 958,604 H952 Z" fill="#8a8a8a" stroke="#111" stroke-width="2"/>
<path d="M952,620 H958 A11,11 0 0 1 958,642 H952 Z" fill="#8a8a8a" stroke="#111" stroke-width="2"/>
<circle cx="988" cy="612" r="10" fill="#8a8a8a" stroke="#111" stroke-width="2"/>
<rect x="981" y="610.5" width="14" height="3" fill="#fff"/>
<!-- oscilloscope -->
<rect class="bx" x="975" y="519" width="87" height="41"/>
<rect x="985" y="528" width="67" height="18" fill="#fff" stroke="#111" stroke-width="1.5"/>
<path d="M990,540 Q994,532 997,538 T1004,538 T1011,537 T1018,539 T1025,536 T1032,539 T1040,537 T1047,538" fill="none" stroke="#111" stroke-width="1"/>
<g fill="#1d5a2a" stroke="#3ab04a" stroke-width="1"><circle cx="1003" cy="553" r="3.2"/><circle cx="1018" cy="553" r="3.2"/><circle cx="1033" cy="553" r="3.2"/><circle cx="1048" cy="553" r="3.2"/></g>

<!-- programmable LO spectrum -->
<text class="lb" x="765" y="500" textLength="112" lengthAdjust="spacingAndGlyphs">programmable LO</text>
<line x1="767" y1="583" x2="893" y2="583" stroke="#444" stroke-width="1.2"/>
<g>
<polygon points="775,583 777.2,570 778,548 778.8,570 781,583" fill="#8a5aa8"/>
<polygon points="785,583 787.2,572 788,565 788.8,572 791,583" fill="#e8a050"/>
<polygon points="795,583 797.2,572 798,564 798.8,572 801,583" fill="#4a62c4"/>
<polygon points="806,583 808.2,570 809,540 809.8,570 812,583" fill="#3a9a5a"/>
<polygon points="816,583 818.2,570 819,522 819.8,570 822,583" fill="#c84a4a"/>
<polygon points="827,583 829.2,572 830,564 830.8,572 833,583" fill="#9a9aa8"/>
<polygon points="838,583 840.2,570 841,557 841.8,570 844,583" fill="#c84a4a"/>
<polygon points="848,583 850.2,572 851,563 851.8,572 854,583" fill="#3a9a5a"/>
<polygon points="859,583 861.2,570 862,550 862.8,570 865,583" fill="#4a62c4"/>
<polygon points="869,583 871.2,570 872,545 872.8,570 875,583" fill="#e8a050"/>
<polygon points="880,583 882.2,570 883,513 883.8,570 886,583" fill="#8a5aa8"/>
</g>
<polygon points="858.5,546 862,538 865.5,546" fill="#3a9a5a"/>
<g fill="#fff" stroke-width="1.5">
<circle cx="778" cy="537" r="5" stroke="#8a5aa8"/><circle cx="788" cy="547" r="5" stroke="#e8a050"/><circle cx="808" cy="529" r="5" stroke="#3a9a5a"/><circle cx="818" cy="510" r="5" stroke="#c84a4a"/><circle cx="839" cy="545" r="5" stroke="#c84a4a"/><circle cx="851" cy="553" r="5" stroke="#3a9a5a"/><circle cx="872" cy="532" r="5" stroke="#e8a050"/><circle cx="882" cy="503" r="5" stroke="#8a5aa8"/>
</g>

<!-- multimode cluster states spectrum -->
<line x1="767" y1="662" x2="893" y2="662" stroke="#444" stroke-width="1.2"/>
<g fill-opacity="0.8">
<polygon points="774,662 777,648 778,643 779,648 782,662" fill="#b08ac8"/>
<polygon points="784,662 787,648 788,643 789,648 792,662" fill="#f0c080"/>
<polygon points="805,662 808,648 809,643 810,648 813,662" fill="#70b880"/>
<polygon points="815,662 818,648 819,643 820,648 823,662" fill="#e07a80"/>
<polygon points="837,662 840,648 841,643 842,648 845,662" fill="#e07a80"/>
<polygon points="847,662 850,648 851,643 852,648 855,662" fill="#70b880"/>
<polygon points="868,662 871,648 872,643 873,648 876,662" fill="#f0c080"/>
<polygon points="879,662 882,648 883,643 884,648 887,662" fill="#b08ac8"/>
</g>
<g fill="none" stroke-width="1.2" stroke-dasharray="2,2">
<path d="M798,662 V643" stroke="#4a62c4"/><path d="M830,662 V643" stroke="#6a6a7a"/><path d="M862,662 V632" stroke="#4a62c4"/>
</g>
<polygon points="858.5,634 862,626 865.5,634" fill="#3a9a5a"/>
<text class="lb" x="762" y="679" textLength="151" lengthAdjust="spacingAndGlyphs">multimode cluster states</text>
<text class="lb" x="938" y="659" textLength="89" lengthAdjust="spacingAndGlyphs">polychromatic</text>
<text class="lb" x="930" y="679" textLength="122" lengthAdjust="spacingAndGlyphs">homodyne detection</text>
<text x="1028" y="711" font-size="12" fill="#888">CPPD</text>

<!-- bottom line -->
<line x1="252" y1="721" x2="1060" y2="721" stroke="#333" stroke-width="2"/>
<circle cx="252" cy="721" r="4.5" fill="#111"/>

<!-- watermark -->
<g>
<path d="M833,654 C818,672 806,700 802,727" fill="none" stroke="url(#logoG)" stroke-width="12" stroke-linecap="round"/>
<path d="M812,702 C826,690 838,676 848,664" fill="none" stroke="url(#logoG)" stroke-width="8" stroke-linecap="round"/>
<path d="M846,664 C856,652 872,654 874,664" fill="none" stroke="#4ab8f0" stroke-width="6" stroke-linecap="round"/>
<circle cx="858" cy="697" r="22" fill="#3da0e6"/>
<circle cx="858" cy="697" r="22" fill="none" stroke="#fff" stroke-width="2"/>
<polygon points="858,688 866,694 863,704 853,704 850,694" fill="#fff"/>
<polygon points="842,690 848,686 850,694 845,700 840,697" fill="#fff"/>
<polygon points="870,684 876,690 874,697 867,694 866,688" fill="#fff"/>
<path d="M834,722 A32,32 0 0 0 894,676" fill="none" stroke="#3ab6ee" stroke-width="6" stroke-linecap="round"/>
<text x="912" y="698" font-family="'Noto Sans CJK SC','WenQuanYi Zen Hei',sans-serif" font-size="38" font-weight="900" fill="#1b2b5e" textLength="153" lengthAdjust="spacingAndGlyphs">开云体育</text>
<text x="912" y="726" font-size="25" font-weight="bold" fill="#1b2b5e" textLength="151" lengthAdjust="spacingAndGlyphs">kaiyun.com</text>
</g>
</svg>
</body></html>
